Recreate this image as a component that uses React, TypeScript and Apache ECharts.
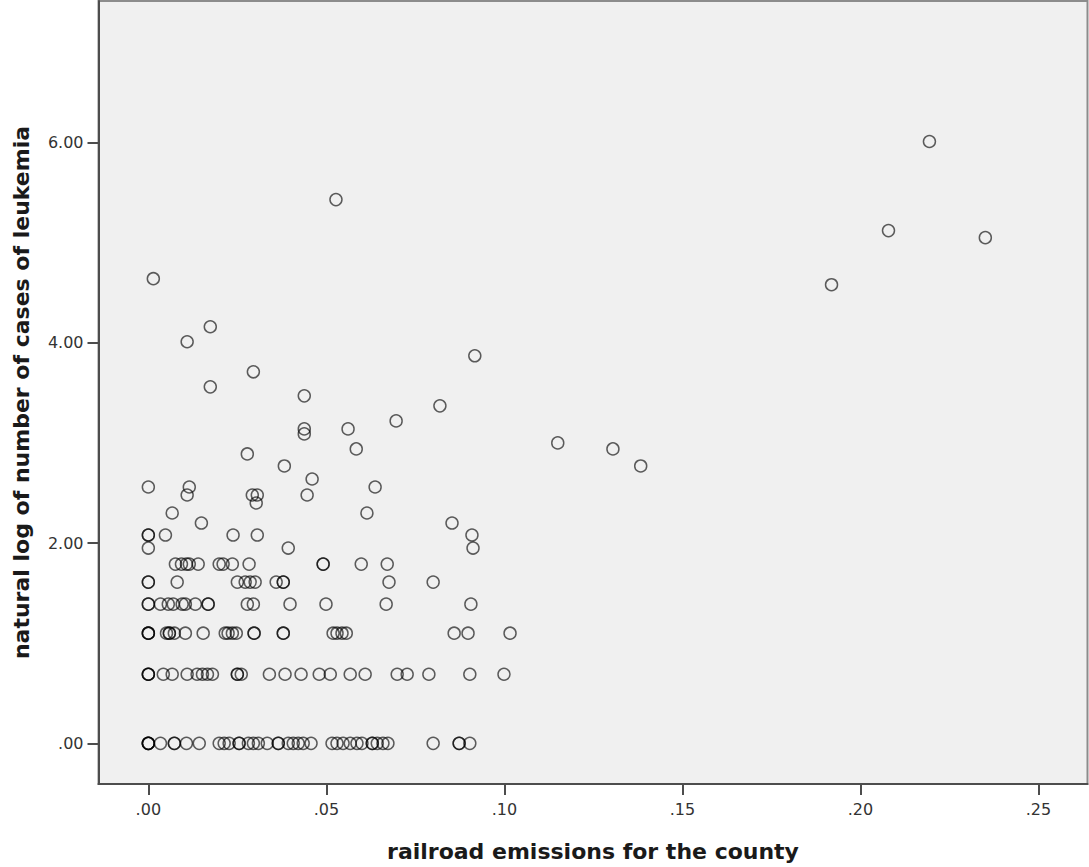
import React, { useEffect, useRef } from "react";
import * as echarts from "echarts";

// y levels (natural log of number of cases) and the x values (railroad emissions) at each level
const row000 = [0, 0, 0, 0, 0.0034, 0.0073, 0.0073, 0.0107, 0.0143, 0.0199, 0.0213, 0.0227, 0.0255, 0.0255, 0.0281, 0.0295, 0.0309, 0.0334, 0.0365, 0.0365, 0.0393, 0.0407, 0.0421, 0.0435, 0.0457, 0.0516, 0.0530, 0.0547, 0.0567, 0.0586, 0.0600, 0.0629, 0.0629, 0.0643, 0.0659, 0.0673, 0.0800, 0.0873, 0.0873, 0.0903];
const row069 = [0, 0, 0, 0.0042, 0.0067, 0.0109, 0.0137, 0.0152, 0.0166, 0.0180, 0.0250, 0.0250, 0.0261, 0.0340, 0.0384, 0.0429, 0.0480, 0.0511, 0.0567, 0.0609, 0.0699, 0.0727, 0.0788, 0.0903, 0.0999];
const row110 = [0, 0, 0, 0.0051, 0.0059, 0.0059, 0.0073, 0.0104, 0.0154, 0.0216, 0.0224, 0.0236, 0.0247, 0.0297, 0.0297, 0.0379, 0.0379, 0.0519, 0.0530, 0.0544, 0.0556, 0.0859, 0.0898, 0.1016];
const row139 = [0, 0, 0.0034, 0.0056, 0.0070, 0.0095, 0.0104, 0.0132, 0.0168, 0.0168, 0.0278, 0.0295, 0.0398, 0.0499, 0.0668, 0.0906];
const row161 = [0, 0, 0.0081, 0.0250, 0.0272, 0.0286, 0.0300, 0.0359, 0.0379, 0.0379, 0.0676, 0.0800];
const row179 = [0.0076, 0.0093, 0.0107, 0.0115, 0.0140, 0.0199, 0.0210, 0.0236, 0.0283, 0.0491, 0.0491, 0.0598, 0.0671];
const rowLevels = [0.0, 0.69, 1.1, 1.39, 1.61, 1.79];
const rowValues = [row000, row069, row110, row139, row161, row179];

// remaining, sparser points
const sparseX = [0, 0.0393, 0.0912, 0, 0, 0.0048, 0.0238, 0.0306, 0.0909, 0.0149, 0.0853, 0.0067, 0.0614, 0.0303, 0.0109, 0.0292, 0.0306, 0.0446, 0, 0.0115, 0.0637, 0.0460, 0.0382, 0.1383, 0.0278, 0.0584, 0.1305, 0.1150, 0.0438, 0.0438, 0.0561, 0.0696, 0.0819, 0.0438, 0.0174, 0.0295, 0.0917, 0.0109, 0.0174, 0.1919, 0.0014, 0.2351, 0.2079, 0.0527, 0.2194];
const sparseY = [1.95, 1.95, 1.95, 2.08, 2.08, 2.08, 2.08, 2.08, 2.08, 2.2, 2.2, 2.3, 2.3, 2.4, 2.48, 2.48, 2.48, 2.48, 2.56, 2.56, 2.56, 2.64, 2.77, 2.77, 2.89, 2.94, 2.94, 3.0, 3.09, 3.14, 3.14, 3.22, 3.37, 3.47, 3.56, 3.71, 3.87, 4.01, 4.16, 4.58, 4.64, 5.05, 5.12, 5.43, 6.01];

const xTicks = [0, 0.05, 0.1, 0.15, 0.2, 0.25];
const yTicks = [0, 2, 4, 6];
const xTitle = "railroad emissions for the county";
const yTitle = "natural log of number of cases of leukemia";

const fmt = (v: number) => {
  const s = Number(v).toFixed(2);
  return s.startsWith("0") ? s.slice(1) : s;
};

export default function App() {
  const ref = useRef<HTMLDivElement>(null);
  useEffect(() => {
    document.body.style.margin = "0";
    const chart = echarts.init(ref.current!, null, { renderer: "svg" });
    const data: number[][] = [];
    rowValues.forEach((xs, i) => xs.forEach((x) => data.push([x, rowLevels[i]])));
    sparseX.forEach((x, i) => data.push([x, sparseY[i]]));
    const labelStyle = { fontFamily: "DejaVu Sans", fontSize: 16, color: "#333" };
    chart.setOption({
      animation: false,
      backgroundColor: "#ffffff",
      grid: {
        left: 98.5,
        top: 1,
        right: 1.5,
        bottom: 82,
        show: true,
        backgroundColor: "#f0f0f0",
        borderColor: "#8c8c8c",
        borderWidth: 2,
      },
      xAxis: {
        type: "value",
        min: -0.014,
        max: 0.2638,
        splitLine: { show: false },
        axisLine: { show: true, onZero: false, lineStyle: { color: "#4d4d4d", width: 2 } },
        axisTick: { show: true, length: 11, customValues: xTicks, lineStyle: { color: "#4d4d4d", width: 2 } },
        axisLabel: { ...labelStyle, margin: 17, customValues: xTicks, formatter: fmt },
        name: xTitle,
        nameLocation: "middle",
        nameGap: 56,
        nameTextStyle: { fontFamily: "DejaVu Sans", fontWeight: "bold", fontSize: 22, color: "#1a1a1a" },
      },
      yAxis: {
        type: "value",
        min: -0.406,
        max: 7.413,
        splitLine: { show: false },
        axisLine: { show: true, onZero: false, lineStyle: { color: "#4d4d4d", width: 2 } },
        axisTick: { show: true, length: 11, customValues: yTicks, lineStyle: { color: "#4d4d4d", width: 2 } },
        axisLabel: { ...labelStyle, margin: 15, customValues: yTicks, formatter: fmt },
        name: yTitle,
        nameLocation: "middle",
        nameGap: 66,
        nameRotate: 90,
        nameTextStyle: { fontFamily: "DejaVu Sans", fontWeight: "bold", fontSize: 22, color: "#1a1a1a" },
      },
      series: [
        {
          type: "scatter",
          data,
          symbol: "circle",
          symbolSize: 12,
          clip: false,
          itemStyle: { color: "rgba(0,0,0,0)", borderColor: "rgba(0,0,0,0.78)", borderWidth: 1.5 },
        },
      ],
    });
    return () => chart.dispose();
  }, []);
  return <div ref={ref} style={{ width: 1089, height: 867 }} />;
}
